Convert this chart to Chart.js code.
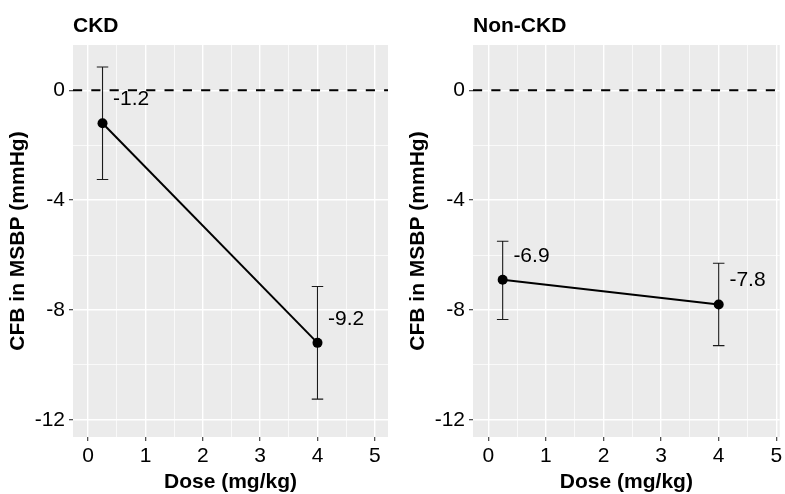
<!DOCTYPE html>
<html><head><meta charset="utf-8">
<script src="https://cdn.jsdelivr.net/npm/chart.js@4/dist/chart.umd.min.js"></script>
<style>
html,body{margin:0;padding:0;background:#fff;}
#wrap{position:relative;width:785px;height:494px;overflow:hidden;background:#fff;}
canvas{position:absolute;top:0;}
</style></head><body>
<div id="wrap">
<canvas id="c1" width="393" height="494" style="left:0px"></canvas>
<canvas id="c2" width="385" height="494" style="left:400px"></canvas>
</div>
<script>
// ---- data ----
const panelTitles = ['CKD', 'Non-CKD'];
const doses = [0.25, 4];
const ckdMeans = [-1.2, -9.2];
const ckdLower = [-3.25, -11.25];
const ckdUpper = [0.85, -7.15];
const nonCkdMeans = [-6.9, -7.8];
const nonCkdLower = [-8.35, -9.3];
const nonCkdUpper = [-5.5, -6.3];
const xMajorTicks = [0, 1, 2, 3, 4, 5];
const xMinorTicks = [0.5, 1.5, 2.5, 3.5, 4.5];
const yMajorTicks = [0, -4, -8, -12];
const yMinorTicks = [-2, -6, -10];
const refLineValue = 0;
const xAxisTitle = 'Dose (mg/kg)';
const yAxisTitle = 'CFB in MSBP (mmHg)';

// ---- layout / style constants ----
const FONT = "'Liberation Sans', Arial, Helvetica, sans-serif";
const X_MIN = -0.265, Y_MIN = -12.63, Y_MAX = 1.65;
const X_MAX_LEFT = 5.23, X_MAX_RIGHT = 5.06;
const LABEL_NUDGE_X = 0.5, LABEL_NUDGE_Y = 0.87, CAP_HALF = 0.1;

function isMajor(list, v) { return list.some(t => Math.abs(t - v) < 1e-9); }

function makePanel(canvasId, title, means, lower, upper, xMax, rightPad) {
  const panelBg = {
    id: 'panelBg',
    beforeDraw(chart) {
      const {ctx, chartArea: a} = chart;
      ctx.save();
      ctx.fillStyle = '#EBEBEB';
      ctx.fillRect(a.left, a.top, a.right - a.left, a.bottom - a.top);
      ctx.restore();
    }
  };
  const errorBars = {
    id: 'errorBars',
    beforeDatasetsDraw(chart) {
      const {ctx} = chart; const x = chart.scales.x, y = chart.scales.y;
      ctx.save();
      ctx.strokeStyle = '#1a1a1a';
      ctx.lineWidth = 1.1;
      doses.forEach((d, i) => {
        const px = x.getPixelForValue(d);
        const x0 = x.getPixelForValue(d - CAP_HALF), x1 = x.getPixelForValue(d + CAP_HALF);
        const yl = y.getPixelForValue(lower[i]), yu = y.getPixelForValue(upper[i]);
        ctx.beginPath();
        ctx.moveTo(px, yl); ctx.lineTo(px, yu);
        ctx.moveTo(x0, yl); ctx.lineTo(x1, yl);
        ctx.moveTo(x0, yu); ctx.lineTo(x1, yu);
        ctx.stroke();
      });
      ctx.restore();
    }
  };
  const valueLabels = {
    id: 'valueLabels',
    afterDatasetsDraw(chart) {
      const {ctx} = chart; const x = chart.scales.x, y = chart.scales.y;
      ctx.save();
      ctx.fillStyle = '#000';
      ctx.font = '21px ' + FONT;
      ctx.textAlign = 'center';
      ctx.textBaseline = 'middle';
      doses.forEach((d, i) => {
        ctx.fillText(means[i].toFixed(1), x.getPixelForValue(d + LABEL_NUDGE_X), y.getPixelForValue(means[i] + LABEL_NUDGE_Y));
      });
      ctx.restore();
    }
  };

  return new Chart(document.getElementById(canvasId), {
    type: 'line',
    data: {
      datasets: [
        {
          data: doses.map((d, i) => ({x: d, y: means[i]})),
          borderColor: '#000', borderWidth: 2,
          pointRadius: 5, pointBackgroundColor: '#000', pointBorderWidth: 0,
          tension: 0
        },
        {
          data: [{x: X_MIN, y: refLineValue}, {x: xMax, y: refLineValue}],
          borderColor: '#000', borderWidth: 2, borderDash: [9.15, 9.15],
          pointRadius: 0, tension: 0
        }
      ]
    },
    options: {
      responsive: false,
      animation: false,
      devicePixelRatio: 1,
      layout: {padding: {left: 0, right: rightPad, top: 0, bottom: 0}},
      plugins: {
        legend: {display: false},
        tooltip: {enabled: false},
        title: {
          display: true, text: title, align: 'start', fullSize: false,
          color: '#000', font: {family: FONT, size: 21, weight: 'bold', lineHeight: 1},
          padding: {top: 16.2, bottom: 7.8}
        }
      },
      scales: {
        x: {
          type: 'linear', min: X_MIN, max: xMax,
          afterBuildTicks: s => { s.ticks = [...xMajorTicks, ...xMinorTicks].sort((a, b) => a - b).map(v => ({value: v})); },
          afterFit: s => { s.height = 57; },
          border: {display: false},
          grid: {
            color: '#fff',
            lineWidth: c => (c.tick && isMajor(xMajorTicks, c.tick.value)) ? 1.4 : 0.7,
            tickLength: 4, tickWidth: 1.1,
            tickColor: c => (c.tick && isMajor(xMajorTicks, c.tick.value)) ? '#333' : 'rgba(0,0,0,0)'
          },
          ticks: {
            autoSkip: false, maxRotation: 0, padding: 2.8, color: '#000',
            font: {family: FONT, size: 21},
            callback: v => isMajor(xMajorTicks, v) ? String(v) : ''
          },
          title: {
            display: true, text: xAxisTitle, color: '#000',
            font: {family: FONT, size: 21, weight: 'bold', lineHeight: 1},
            padding: {top: 0, bottom: 0.8}
          }
        },
        y: {
          type: 'linear', min: Y_MIN, max: Y_MAX,
          afterBuildTicks: s => { s.ticks = [...yMajorTicks, ...yMinorTicks].sort((a, b) => a - b).map(v => ({value: v})); },
          afterFit: s => { s.width = 73; },
          border: {display: false},
          grid: {
            color: '#fff',
            lineWidth: c => (c.tick && isMajor(yMajorTicks, c.tick.value)) ? 1.4 : 0.7,
            tickLength: 4, tickWidth: 1.1,
            tickColor: c => (c.tick && isMajor(yMajorTicks, c.tick.value)) ? '#333' : 'rgba(0,0,0,0)'
          },
          ticks: {
            autoSkip: false, padding: 4, color: '#000',
            font: {family: FONT, size: 21},
            callback: v => isMajor(yMajorTicks, v) ? String(v) : ''
          },
          title: {
            display: true, text: yAxisTitle, color: '#000',
            font: {family: FONT, size: 21, weight: 'bold', lineHeight: 1},
            padding: {top: 8, bottom: 0}
          }
        }
      }
    },
    plugins: [panelBg, errorBars, valueLabels]
  });
}

makePanel('c1', panelTitles[0], ckdMeans, ckdLower, ckdUpper, X_MAX_LEFT, 2);
makePanel('c2', panelTitles[1], nonCkdMeans, nonCkdLower, nonCkdUpper, X_MAX_RIGHT, 4);
</script>
</body></html>
